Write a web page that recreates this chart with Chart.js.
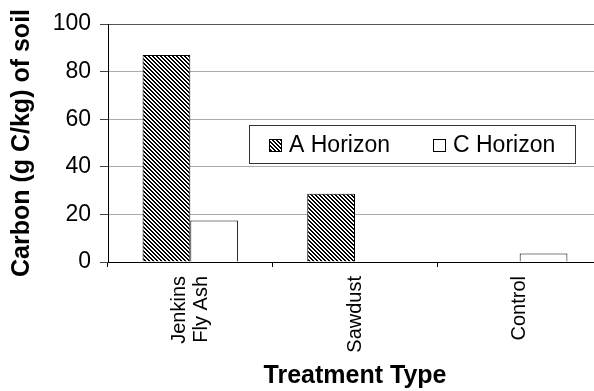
<!DOCTYPE html>
<html>
<head>
<meta charset="utf-8">
<script src="https://cdn.jsdelivr.net/npm/chart.js@4"></script>
<style>
  html, body { margin: 0; padding: 0; background: #fff; overflow: hidden; }
  canvas { display: block; }
</style>
</head>
<body>
<canvas id="carbonChart" width="610" height="391"></canvas>
<script>
// data
const treatments = [["Jenkins", "Fly Ash"], "Sawdust", "Control"];
const aHorizon = [87, 28.7, null];
const cHorizon = [17.4, null, 3.6];
const yTicks = [0, 20, 40, 60, 80, 100];

const FONT = "'Liberation Sans', Arial, Helvetica, sans-serif";

// diagonal hatch like the old excel fill
function hatch() {
  const n = 4;
  const c = document.createElement("canvas");
  c.width = n;
  c.height = n;
  const g = c.getContext("2d");
  g.fillStyle = "#fff";
  g.fillRect(0, 0, n, n);
  g.fillStyle = "#000";
  for (let x = 0; x < n; x++) {
    for (let y = 0; y < n; y++) {
      if ((x - y + n) % n < 2) g.fillRect(x, y, 1, 1);
    }
  }
  return c.getContext("2d").createPattern(c, "repeat");
}
const hatchFill = hatch();

// legend box sits inside the plot
const insideLegend = {
  id: "insideLegend",
  afterDraw(chart) {
    const ctx = chart.ctx;
    const a = chart.chartArea;
    const x0 = a.left + 141, y0 = a.top + 101;
    ctx.save();
    ctx.fillStyle = "#fff";
    ctx.fillRect(x0, y0, 326, 38);
    ctx.strokeStyle = "#333";
    ctx.lineWidth = 1;
    ctx.strokeRect(x0 + 0.5, y0 + 0.5, 326, 38);
    ctx.font = "23px " + FONT;
    ctx.textBaseline = "middle";
    ctx.fillStyle = "#000";
    const slots = [20, 184];
    chart.data.datasets.forEach(function (ds, i) {
      const sx = x0 + slots[i];
      ctx.fillStyle = ds.backgroundColor;
      ctx.fillRect(sx, y0 + 14, 12, 12);
      ctx.strokeStyle = "#000";
      ctx.strokeRect(sx + 0.5, y0 + 14.5, 12, 12);
      ctx.fillStyle = "#000";
      ctx.fillText(ds.label, sx + 20, y0 + 21);
    });
    ctx.restore();
  },
};

// centre the two-line label on its tick
const centreMultiline = {
  id: "centreMultiline",
  beforeDraw(chart) {
    const sc = chart.scales.x;
    const items = sc.getLabelItems(chart.chartArea);
    items.forEach(function (it) {
      if (Array.isArray(it.label) && !it._moved) {
        it.options.translation[0] -= (it.label.length - 1) * 11;
        it._moved = true;
      }
    });
  },
};

new Chart(document.getElementById("carbonChart"), {
  type: "bar",
  data: {
    labels: treatments,
    datasets: [
      {
        label: "A Horizon",
        data: aHorizon,
        backgroundColor: hatchFill,
        borderColor: "#000",
        borderWidth: 1,
      },
      {
        label: "C Horizon",
        data: cHorizon,
        backgroundColor: "#fff",
        borderColor: "#000",
        borderWidth: 1,
      },
    ],
  },
  options: {
    responsive: false,
    animation: false,
    events: [],
    layout: { padding: { top: 24, right: 8, left: 0, bottom: 0 } },
    datasets: {
      bar: { categoryPercentage: 0.58, barPercentage: 1.0 },
    },
    plugins: {
      legend: { display: false },
      tooltip: { enabled: false },
    },
    scales: {
      x: {
        afterFit: function (s) { s.height = 129; },
        border: { color: "#000", width: 1 },
        grid: {
          offset: true,
          drawOnChartArea: false,
          drawTicks: true,
          tickLength: 5,
          color: "#000",
        },
        ticks: {
          color: "#000",
          minRotation: 90,
          maxRotation: 90,
          padding: 9,
          font: { family: FONT, size: 20, lineHeight: 1.1 },
        },
        title: {
          display: true,
          text: "Treatment Type",
          color: "#000",
          padding: { top: 0, bottom: 0 },
          font: { family: FONT, size: 25, weight: "bold" },
        },
      },
      y: {
        min: 0,
        max: 100,
        afterFit: function (s) { s.width = 108; },
        afterBuildTicks: function (s) {
          s.ticks = yTicks.map(function (v) { return { value: v }; });
        },
        border: { color: "#000", width: 1 },
        grid: {
          color: function (c) {
            return c.tick && c.tick.value === 100 ? "#555" : "#aaa";
          },
          tickColor: "#444",
          tickLength: 8,
          lineWidth: 1,
        },
        ticks: {
          color: "#000",
          padding: 9,
          font: { family: FONT, size: 23 },
        },
        title: {
          display: true,
          text: "Carbon (g C/kg) of soil",
          color: "#000",
          padding: { top: 7, bottom: 0 },
          font: { family: FONT, size: 25, weight: "bold" },
        },
      },
    },
  },
  plugins: [insideLegend, centreMultiline],
});
</script>
</body>
</html>
